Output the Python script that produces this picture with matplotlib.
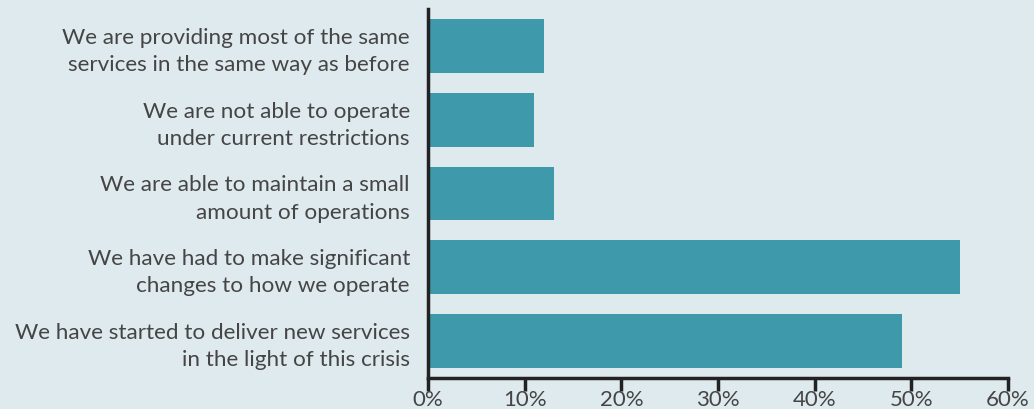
import matplotlib
matplotlib.use("Agg")
import matplotlib.pyplot as plt
from matplotlib.ticker import FuncFormatter

labels = [
    "We are providing most of the same\nservices in the same way as before",
    "We are not able to operate\nunder current restrictions",
    "We are able to maintain a small\namount of operations",
    "We have had to make significant\nchanges to how we operate",
    "We have started to deliver new services\nin the light of this crisis",
]
values = [12, 11, 13, 55, 49]
xticks = [0, 10, 20, 30, 40, 50, 60]

bg = "#dfeaef"
bar_color = "#3e99ab"
dark = "#222222"
txt = "#454545"

plt.rcParams["font.family"] = ["Lato", "DejaVu Sans"]

fig = plt.figure(figsize=(10.34, 4.09), dpi=100, facecolor=bg)
ax = fig.add_axes([428 / 1034, 1 - 378 / 409, 580 / 1034, 369 / 409])
ax.set_facecolor(bg)

pos = list(range(len(values)))
ax.barh(pos, values, height=0.73, color=bar_color, zorder=2)
ax.set_ylim(len(values) - 0.5, -0.5)
ax.set_xlim(0, 60)

ax.set_yticks(pos)
ax.set_yticklabels(labels, fontsize=16.2, color=txt, linespacing=1.45)
ax.tick_params(axis="y", length=0, pad=13)

ax.set_xticks(xticks)
ax.xaxis.set_major_formatter(FuncFormatter(lambda v, p: f"{v:.0f}%"))
ax.tick_params(axis="x", direction="out", length=9, width=2.5, color=dark,
               labelsize=16, labelcolor=txt, pad=0)

for s in ["top", "right"]:
    ax.spines[s].set_visible(False)
for s in ["left", "bottom"]:
    ax.spines[s].set_color(dark)
    ax.spines[s].set_linewidth(2.5)

fig.savefig("out.png", dpi=100, facecolor=bg)
